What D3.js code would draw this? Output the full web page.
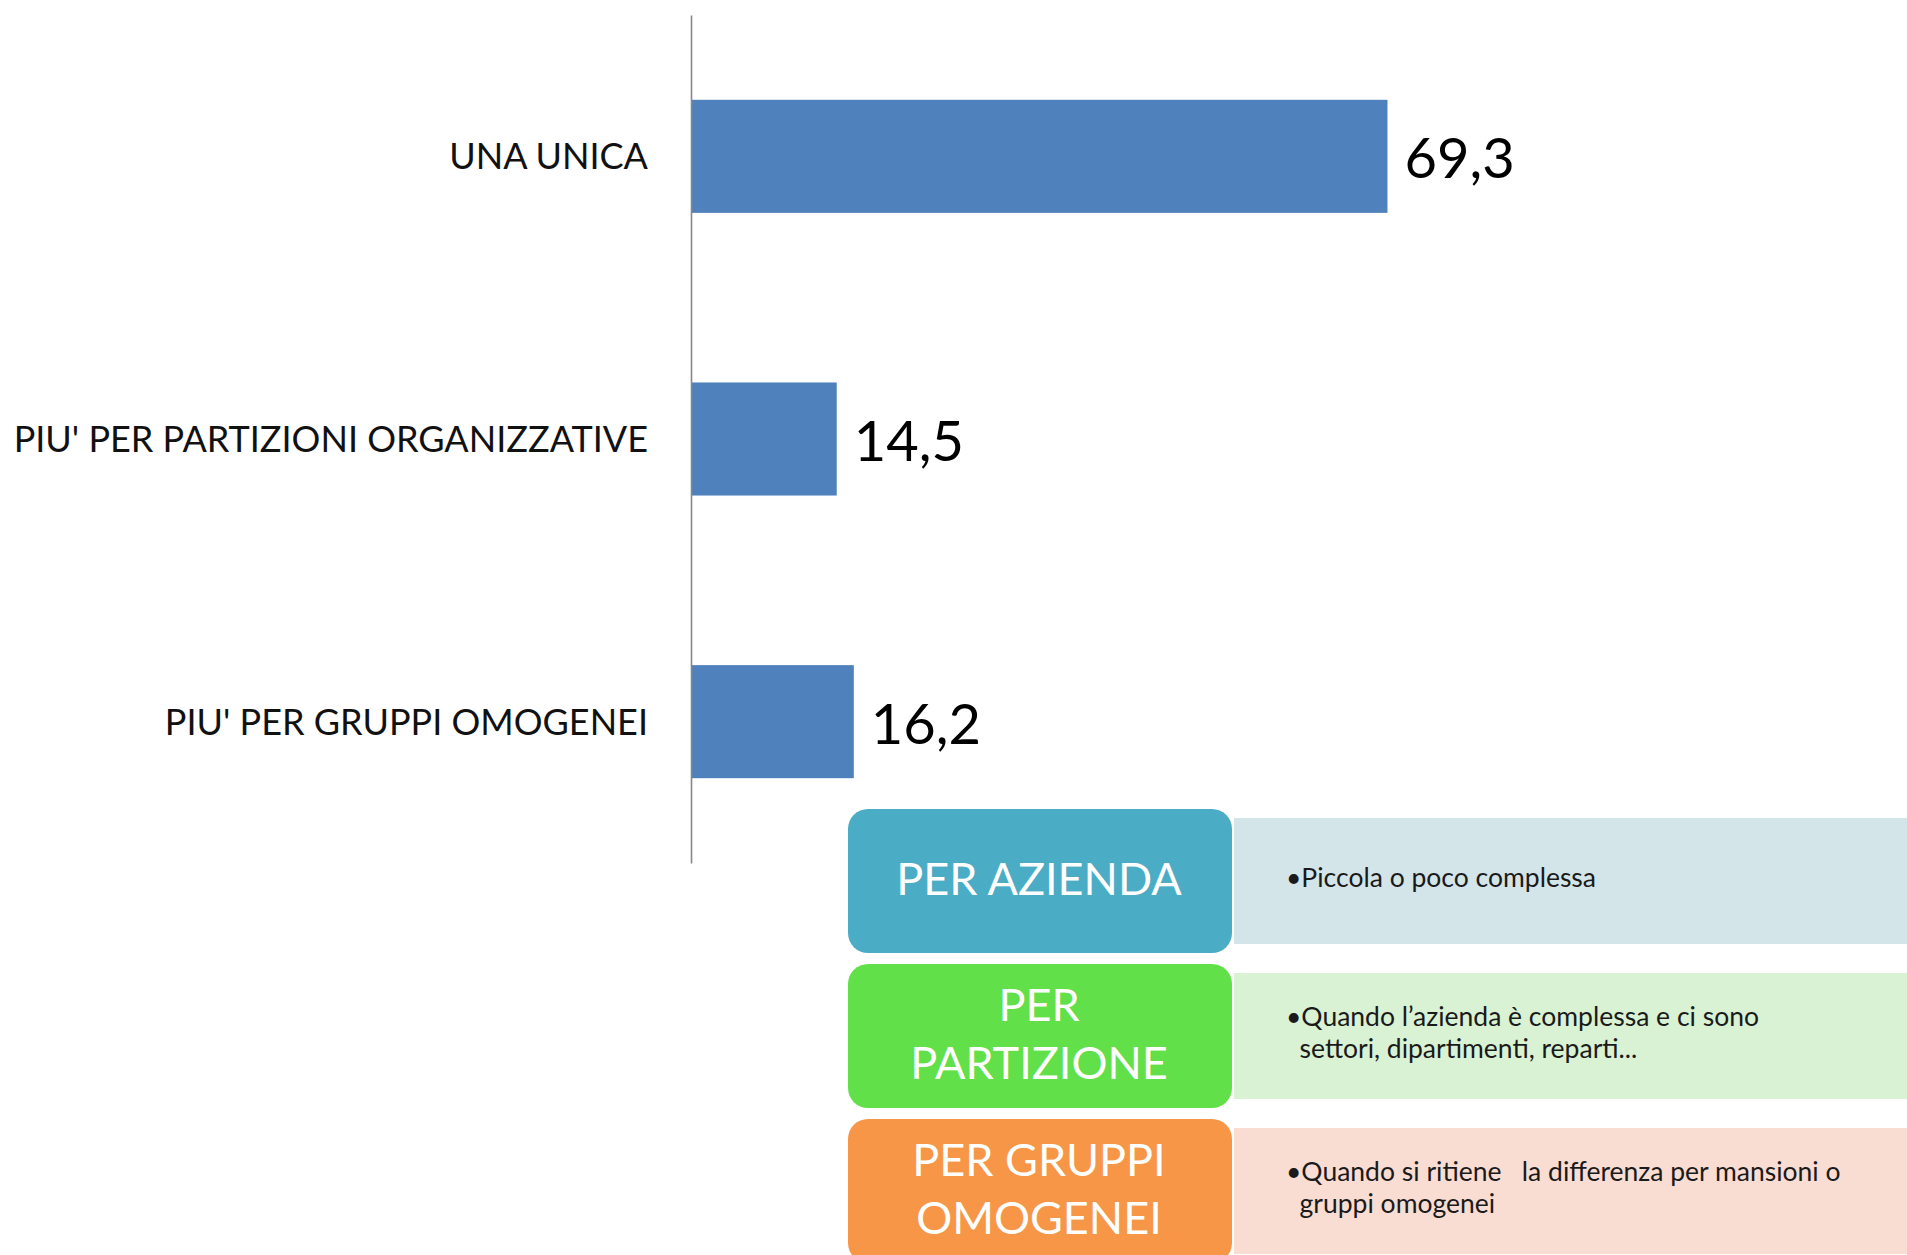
<!DOCTYPE html>
<html>
<head>
<meta charset="utf-8">
<script src="https://cdnjs.cloudflare.com/ajax/libs/d3/7.8.5/d3.min.js"></script>
<style>
  html, body { margin: 0; padding: 0; background: #ffffff; overflow: hidden; }
  svg { display: block; font-family: Lato, "Open Sans", sans-serif; }
</style>
</head>
<body>
<script>
// ---- data ----
const categories = ["UNA UNICA", "PIU' PER PARTIZIONI ORGANIZZATIVE", "PIU' PER GRUPPI OMOGENEI"];
const values = [69.3, 14.5, 16.2];
const valueLabels = ["69,3", "14,5", "16,2"];

const boxTitles = [["PER AZIENDA"], ["PER", "PARTIZIONE"], ["PER GRUPPI", "OMOGENEI"]];
const boxDescriptions = [
  ["•Piccola o poco complessa"],
  ["•Quando l’azienda è complessa e ci sono", "  settori, dipartimenti, reparti..."],
  ["•Quando si ritiene   la differenza per mansioni o", "  gruppi omogenei"]
];
const boxColors = ["#4BACC6", "#62E04A", "#F79646"];
const descColors = ["#D4E5EA", "#D9F2D3", "#F9DDD3"];

// ---- layout ----
const W = 1907, H = 1255;
const svg = d3.select("body").append("svg").attr("width", W).attr("height", H);

const x = d3.scaleLinear().domain([0, 100]).range([691, 1696]);
const y = d3.scaleBand().domain(categories).range([15, 863]).paddingInner(0.6).paddingOuter(0.3);

// bars
svg.append("g").selectAll("rect").data(categories).join("rect")
  .attr("x", x(0))
  .attr("y", d => y(d))
  .attr("width", (d, i) => x(values[i]) - x(0))
  .attr("height", y.bandwidth())
  .attr("fill", "#4F81BD");

// axis
const axis = svg.append("g")
  .attr("transform", `translate(${x(0)},0)`)
  .call(d3.axisLeft(y).tickSize(0).tickPadding(43).tickSizeOuter(0));
axis.select(".domain").attr("stroke", "#878787").attr("stroke-width", 1.6);
axis.selectAll(".tick text")
  .attr("fill", "#111")
  .style("font-family", "Lato, sans-serif")
  .style("font-size", "36px")
  .attr("dy", "0.36em");

// value labels
svg.append("g").selectAll("text").data(categories).join("text")
  .attr("x", (d, i) => x(values[i]) + 17)
  .attr("y", d => y(d) + y.bandwidth() / 2 + 2)
  .attr("dy", "0.36em")
  .attr("fill", "#000")
  .style("font-size", "56px")
  .text((d, i) => valueLabels[i]);

// bottom boxes
const by = d3.scaleBand().domain(d3.range(boxTitles.length)).range([809, 1263]).paddingInner(0.0707).paddingOuter(0);

const g = svg.append("g").selectAll("g").data(d3.range(boxTitles.length)).join("g");

g.append("rect")
  .attr("x", 1234)
  .attr("y", i => by(i) + 9)
  .attr("width", W - 1234 + 20)
  .attr("height", by.bandwidth() - 18)
  .attr("fill", i => descColors[i]);

g.append("rect")
  .attr("x", 848)
  .attr("y", i => by(i))
  .attr("width", 384)
  .attr("height", by.bandwidth())
  .attr("rx", 20).attr("ry", 20)
  .attr("fill", i => boxColors[i]);

g.each(function(i) {
  const sel = d3.select(this);
  const cy = by(i) + by.bandwidth() / 2;
  const lines = boxTitles[i];
  const lh = 58;
  lines.forEach((t, k) => {
    sel.append("text")
      .attr("x", 1039)
      .attr("y", cy + (k - (lines.length - 1) / 2) * lh - 2)
      .attr("dy", "0.36em")
      .attr("text-anchor", "middle")
      .attr("fill", "#fff")
      .style("font-size", "45px")
      .text(t);
  });
  const dl = boxDescriptions[i];
  const dlh = 32;
  dl.forEach((t, k) => {
    sel.append("text")
      .attr("x", 1286)
      .attr("y", cy + (k - (dl.length - 1) / 2) * dlh - 4)
      .attr("dy", "0.36em")
      .attr("fill", "#1a1a1a")
      .attr("xml:space", "preserve")
      .style("white-space", "pre")
      .style("font-size", "26.5px")
      .text(t);
  });
});
</script>
</body>
</html>
